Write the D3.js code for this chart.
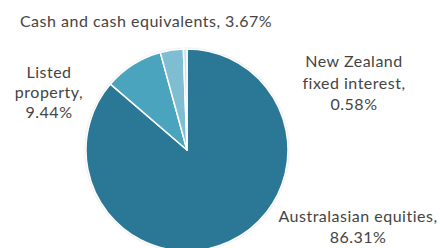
<!DOCTYPE html>
<html lang="en">
<head>
<script src="https://cdn.jsdelivr.net/npm/d3@7"></script>
<style>
  body { margin: 0; background: #fff; }
  text { font-family: "Lato", sans-serif; fill: #444; letter-spacing: 0.5px; }
</style>
</head>
<body>
<svg width="440" height="248"></svg>
<script>
var categories = ["Australasian equities", "Listed property", "Cash and cash equivalents", "New Zealand fixed interest"];
var values = [86.31, 9.44, 3.67, 0.58];
var colors = ["#2a7896", "#4aa4bd", "#7fbdd3", "#c8e1ea"];

var svg = d3.select("svg");
var cx = 187, cy = 150, r = 101;

var defs = svg.append("defs");
var f = defs.append("filter").attr("id", "sh").attr("x", "-10%").attr("y", "-10%").attr("width", "120%").attr("height", "120%");
f.append("feDropShadow").attr("dx", 0).attr("dy", 0).attr("stdDeviation", 1.2).attr("flood-color", "#000").attr("flood-opacity", 0.35);

var data = categories.map(function(c, i) { return {name: c, value: values[i], color: colors[i]}; });

var pie = d3.pie().sort(null).value(function(d) { return d.value; });
var arc = d3.arc().innerRadius(0).outerRadius(r);

var g = svg.append("g").attr("transform", "translate(" + cx + "," + cy + ")");
g.append("circle").attr("r", r).attr("fill", "#fff").attr("filter", "url(#sh)");
g.selectAll("path")
  .data(pie(data))
  .enter().append("path")
  .attr("d", arc)
  .attr("fill", function(d) { return d.data.color; })
  .attr("stroke", "#fff")
  .attr("stroke-width", 1.5)
  .attr("stroke-linejoin", "round");

// labels
var labels = [
  {lines: [categories[0] + ",", values[0].toFixed(2) + "%"], x: 358, y: 222, lh: 21},
  {lines: ["Listed", "property,", values[1].toFixed(2) + "%"], x: 49, y: 78, lh: 20},
  {lines: [categories[2] + ", " + values[2].toFixed(2) + "%"], x: 146, y: 27, lh: 20},
  {lines: ["New Zealand", "fixed interest,", values[3].toFixed(2) + "%"], x: 354, y: 67, lh: 21.5}
];
labels.forEach(function(l) {
  var t = svg.append("text")
    .attr("text-anchor", "middle")
    .attr("font-size", "16px");
  l.lines.forEach(function(s, i) {
    t.append("tspan").attr("x", l.x).attr("y", l.y + i * l.lh).text(s);
  });
});
</script>
</body>
</html>
